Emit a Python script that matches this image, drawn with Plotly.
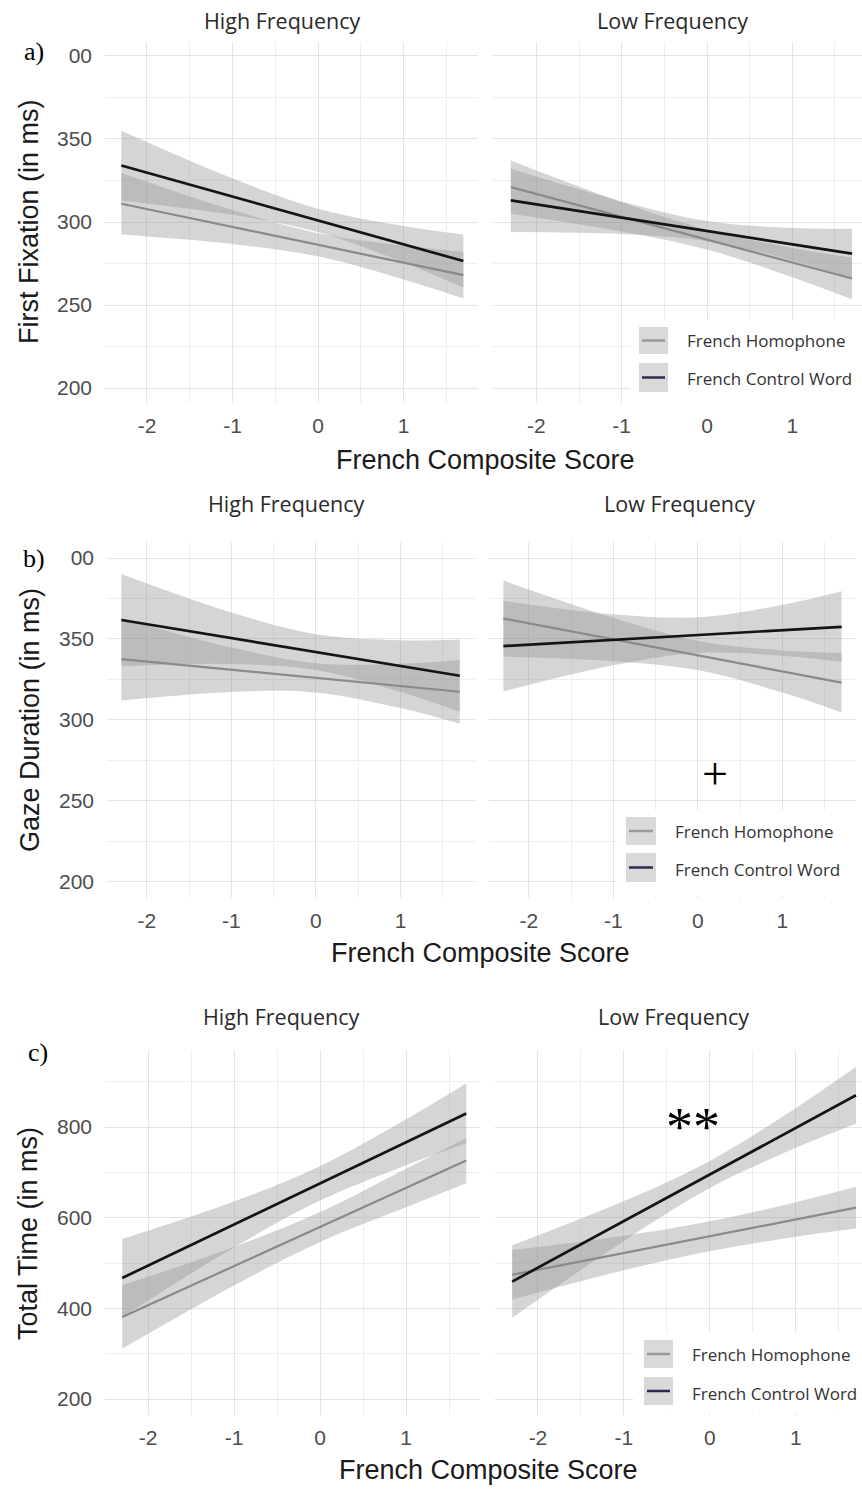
import plotly.graph_objects as go

W, H = 862, 1489
OFF = 0  # body margin removed in the page (see post_script)

# ---------------- data ----------------
x_pts = [-2.3, -1.0, 0.0, 1.0, 1.7]

# a) First Fixation
a_hf_hom = [311.0, 297.0, 286.3, 275.6, 268.0]
a_hf_hom_lo = [292.5, 286.8, 279.3, 265.4, 254.0]
a_hf_hom_hi = [329.5, 307.2, 293.3, 285.8, 282.0]
a_hf_ctl = [334.0, 315.3, 301.0, 286.6, 276.5]
a_hf_ctl_lo = [313.0, 304.3, 294.0, 275.6, 260.5]
a_hf_ctl_hi = [355.0, 326.3, 308.0, 297.6, 292.5]

a_lf_hom = [321.0, 303.1, 289.4, 275.6, 266.0]
a_lf_hom_lo = [305.0, 294.3, 283.4, 266.8, 253.5]
a_lf_hom_hi = [337.0, 311.9, 295.4, 284.4, 278.5]
a_lf_ctl = [313.0, 302.6, 294.6, 286.6, 281.0]
a_lf_ctl_lo = [294.0, 292.8, 288.6, 276.8, 266.0]
a_lf_ctl_hi = [332.0, 312.4, 300.6, 296.4, 296.0]

# b) Gaze Duration
b_hf_hom = [337.6, 331.0, 326.0, 321.0, 317.4]
b_hf_hom_lo = [312.0, 317.3, 317.0, 307.3, 297.6]
b_hf_hom_hi = [363.0, 344.7, 335.0, 334.7, 337.0]
b_hf_ctl = [361.7, 350.5, 341.9, 333.3, 327.3]
b_hf_ctl_lo = [333.2, 334.6, 330.9, 317.4, 305.0]
b_hf_ctl_hi = [390.2, 366.4, 352.9, 349.2, 349.6]

b_lf_hom = [362.6, 349.7, 339.8, 329.9, 323.0]
b_lf_hom_lo = [339.1, 336.3, 330.8, 316.9, 304.6]
b_lf_hom_hi = [386.1, 363.1, 348.8, 342.9, 341.4]
b_lf_ctl = [345.6, 349.5, 352.4, 355.4, 357.5]
b_lf_ctl_lo = [317.6, 333.8, 341.4, 339.7, 336.0]
b_lf_ctl_hi = [373.6, 365.2, 363.4, 371.1, 379.5]

# c) Total Time
c_hf_hom = [381.0, 493.0, 579.4, 665.6, 726.0]
c_hf_hom_lo = [311.0, 450.5, 546.4, 623.1, 676.0]
c_hf_hom_hi = [451.0, 535.5, 612.4, 708.1, 776.0]
c_hf_ctl = [467.0, 585.0, 675.7, 766.5, 830.0]
c_hf_ctl_lo = [381.0, 534.3, 637.7, 715.8, 764.0]
c_hf_ctl_hi = [553.0, 635.7, 713.7, 817.2, 896.0]

c_lf_hom = [474.0, 522.1, 559.1, 596.1, 622.0]
c_lf_hom_lo = [419.5, 484.0, 526.0, 558.0, 576.0]
c_lf_hom_hi = [528.5, 560.0, 592.0, 634.0, 668.0]
c_lf_ctl = [459.0, 592.6, 695.3, 798.0, 870.0]
c_lf_ctl_lo = [379.0, 548.6, 665.3, 754.0, 807.0]
c_lf_ctl_hi = [539.0, 636.6, 725.3, 842.0, 933.0]

facet_titles = ["High Frequency", "Low Frequency"]
series_names = ["French Homophone", "French Control Word"]
x_title = "French Composite Score"
y_titles = ["First Fixation (in ms)", "Gaze Duration (in ms)", "Total Time (in ms)"]
panel_labels = ["a)", "b)", "c)"]

x_tickvals = [-2, -1, 0, 1]
x_ticktext = ["-2", "-1", "0", "1"]
ab_tickvals = [200, 250, 300, 350, 400]
ab_ticktext = ["200", "250", "300", "350", "00"]
c_tickvals = [200, 400, 600, 800]
c_ticktext = ["200", "400", "600", "800"]

# ---------------- layout helpers ----------------
def px(p):
    return (p - OFF) / W

def py(p):
    return 1 - (p - OFF) / H

BAND = "rgba(150,150,150,0.4)"
HOM_LINE = "#8a8a8a"
CTL_LINE = "#141414"
GRID = "#e4e4e4"
MINOR = "#eeeeee"
TICKFONT = dict(family="Liberation Sans, Arial", size=21, color="#4d4d4d")

panels = [
    dict(hf=(105, 478), lf=(493, 862), yt=42, yb=403,
         xr_hf=[-2.491, 1.871], xr_lf=[-2.509, 1.817], yr=[191.0, 408.4],
         yt_vals=ab_tickvals, yt_text=ab_ticktext, ydt=25,
         data=[(a_hf_hom, a_hf_hom_lo, a_hf_hom_hi, a_hf_ctl, a_hf_ctl_lo, a_hf_ctl_hi),
               (a_lf_hom, a_lf_hom_lo, a_lf_hom_hi, a_lf_ctl, a_lf_ctl_lo, a_lf_ctl_hi)]),
    dict(hf=(107, 475), lf=(489, 856), yt=542, yb=898,
         xr_hf=[-2.47, 1.88], xr_lf=[-2.47, 1.87], yr=[190.0, 409.9],
         yt_vals=ab_tickvals, yt_text=ab_ticktext, ydt=25,
         data=[(b_hf_hom, b_hf_hom_lo, b_hf_hom_hi, b_hf_ctl, b_hf_ctl_lo, b_hf_ctl_hi),
               (b_lf_hom, b_lf_hom_lo, b_lf_hom_hi, b_lf_ctl, b_lf_ctl_lo, b_lf_ctl_hi)]),
    dict(hf=(105, 480), lf=(495, 862), yt=1050, yb=1415,
         xr_hf=[-2.5, 1.86], xr_lf=[-2.5, 1.77], yr=[164.7, 969.9],
         yt_vals=c_tickvals, yt_text=c_ticktext, ydt=100,
         data=[(c_hf_hom, c_hf_hom_lo, c_hf_hom_hi, c_hf_ctl, c_hf_ctl_lo, c_hf_ctl_hi),
               (c_lf_hom, c_lf_hom_lo, c_lf_hom_hi, c_lf_ctl, c_lf_ctl_lo, c_lf_ctl_hi)]),
]

fig = go.Figure()
layout = {}
annotations = []
shapes = []

ax = 0
for pi, p in enumerate(panels):
    for fi, key in enumerate(["hf", "lf"]):
        ax += 1
        xa = "x" if ax == 1 else f"x{ax}"
        ya = "y" if ax == 1 else f"y{ax}"
        xk = "xaxis" if ax == 1 else f"xaxis{ax}"
        yk = "yaxis" if ax == 1 else f"yaxis{ax}"
        x0, x1 = p[key]
        layout[xk] = dict(
            domain=[max(0, px(x0)), min(1, px(x1))], range=p["xr_" + key], anchor=ya,
            tickmode="array", tickvals=x_tickvals, ticktext=x_ticktext,
            showgrid=True, gridcolor=GRID, gridwidth=1.3, zeroline=False,
            showline=False, ticks="", tickfont=TICKFONT, ticklabelstandoff=8,
            minor=dict(tickmode="linear", tick0=0.5, dtick=1, showgrid=True,
                       gridcolor=MINOR, gridwidth=1, ticks=""),
            fixedrange=True,
        )
        layout[yk] = dict(
            domain=[max(0, py(p["yb"])), min(1, py(p["yt"]))], range=p["yr"], anchor=xa,
            tickmode="array", tickvals=p["yt_vals"], ticktext=p["yt_text"],
            showgrid=True, gridcolor=GRID, gridwidth=1.3, zeroline=False,
            showline=False, ticks="", tickfont=TICKFONT,
            showticklabels=(fi == 0), ticklabelstandoff=12,
            minor=dict(tickmode="linear", tick0=p["ydt"], dtick=2 * p["ydt"], showgrid=True,
                       gridcolor=MINOR, gridwidth=1, ticks=""),
            fixedrange=True,
        )
        hom, hom_lo, hom_hi, ctl, ctl_lo, ctl_hi = p["data"][fi]
        for lo, hi in [(hom_lo, hom_hi), (ctl_lo, ctl_hi)]:
            fig.add_trace(go.Scatter(x=x_pts, y=hi, mode="lines", line=dict(width=0, shape="spline"),
                                     xaxis=xa, yaxis=ya, showlegend=False, hoverinfo="skip"))
            fig.add_trace(go.Scatter(x=x_pts, y=lo, mode="lines", line=dict(width=0, shape="spline"),
                                     fill="tonexty", fillcolor=BAND,
                                     xaxis=xa, yaxis=ya, showlegend=False, hoverinfo="skip"))
        fig.add_trace(go.Scatter(x=x_pts, y=hom, mode="lines", name=series_names[0],
                                 line=dict(color=HOM_LINE, width=2.2),
                                 xaxis=xa, yaxis=ya, showlegend=False))
        fig.add_trace(go.Scatter(x=x_pts, y=ctl, mode="lines", name=series_names[1],
                                 line=dict(color=CTL_LINE, width=2.7),
                                 xaxis=xa, yaxis=ya, showlegend=False))

# ---------------- text ----------------
strip_pos = [((282, 21), (672, 21)), ((286, 503), (679, 503)), ((281, 1016), (673, 1016))]
xt_pos = [(485, 460), (481, 953), (488, 1470)]
yt_pos = [(29, 222), (30, 720), (28, 1234)]
lab_pos = [(34, 52), (34, 558), (38, 1052)]

for i in range(3):
    for j in range(2):
        sx, sy = strip_pos[i][j]
        annotations.append(dict(x=px(sx), y=py(sy), xref="paper", yref="paper", text=facet_titles[j],
                                showarrow=False, xanchor="center", yanchor="middle",
                                font=dict(family="Open Sans", size=21.5, color="#2a2a2a")))
    annotations.append(dict(x=px(xt_pos[i][0]), y=py(xt_pos[i][1]), xref="paper", yref="paper",
                            text=x_title, showarrow=False, xanchor="center", yanchor="middle",
                            font=dict(family="Liberation Sans, Arial", size=27, color="#1a1a1a")))
    annotations.append(dict(x=px(yt_pos[i][0]), y=py(yt_pos[i][1]), xref="paper", yref="paper",
                            text=y_titles[i], showarrow=False, xanchor="center", yanchor="middle",
                            textangle=-90,
                            font=dict(family="Liberation Sans, Arial", size=27, color="#1a1a1a")))
    annotations.append(dict(x=px(lab_pos[i][0]), y=py(lab_pos[i][1]), xref="paper", yref="paper",
                            text=panel_labels[i], showarrow=False, xanchor="center", yanchor="middle",
                            font=dict(family="Liberation Serif, Times New Roman", size=26, color="#000000")))

annotations.append(dict(x=px(715), y=py(773), xref="paper", yref="paper", text="+", showarrow=False,
                        xanchor="center", yanchor="middle",
                        font=dict(family="Liberation Serif", size=46, color="#000000")))
annotations.append(dict(x=px(693), y=py(1127), xref="paper", yref="paper", text="**", showarrow=False,
                        xanchor="center", yanchor="middle",
                        font=dict(family="Liberation Serif", size=54, color="#000000")))

# ---------------- legends ----------------
legends = [
    dict(bg=(630, 870, 320, 403), kx=(639, 668), k1=(327, 354), k2=(363, 392), tx=685, ty=(341, 379)),
    dict(bg=(617, 856, 810, 896), kx=(626, 656), k1=(817, 845), k2=(853, 882), tx=673, ty=(831, 869)),
    dict(bg=(633, 870, 1333, 1413), kx=(644, 673), k1=(1340, 1368), k2=(1377, 1405), tx=690, ty=(1354, 1393)),
]
key_line_colors = ["#9a9a9a", "#2b2b55"]
for L in legends:
    bx0, bx1, by0, by1 = L["bg"]
    shapes.append(dict(type="rect", xref="paper", yref="paper", x0=px(bx0), x1=min(1, px(bx1)),
                       y0=py(by1), y1=py(by0), fillcolor="white", line=dict(width=0), layer="above"))
    for k, (ky0, ky1) in enumerate([L["k1"], L["k2"]]):
        kx0, kx1 = L["kx"]
        shapes.append(dict(type="rect", xref="paper", yref="paper", x0=px(kx0), x1=px(kx1),
                           y0=py(ky1), y1=py(ky0), fillcolor="#d9d9d9", line=dict(width=0), layer="above"))
        ym = (ky0 + ky1) / 2
        shapes.append(dict(type="line", xref="paper", yref="paper", x0=px(kx0 + 3), x1=px(kx1 - 3),
                           y0=py(ym), y1=py(ym), line=dict(color=key_line_colors[k], width=2.5), layer="above"))
        annotations.append(dict(x=px(L["tx"]), y=py(L["ty"][k]), xref="paper", yref="paper",
                                text=series_names[k], showarrow=False, xanchor="left", yanchor="middle",
                                font=dict(family="Open Sans", size=17, color="#333333")))

fig.update_layout(
    width=W, height=H,
    margin=dict(l=0, r=0, t=0, b=0),
    paper_bgcolor="white", plot_bgcolor="white",
    showlegend=False,
    annotations=annotations, shapes=shapes,
    **layout,
)

fig.write_html(
    "out.html",
    config={"displayModeBar": False},
    post_script="document.body.style.margin='0';document.body.style.overflow='hidden';",
)
